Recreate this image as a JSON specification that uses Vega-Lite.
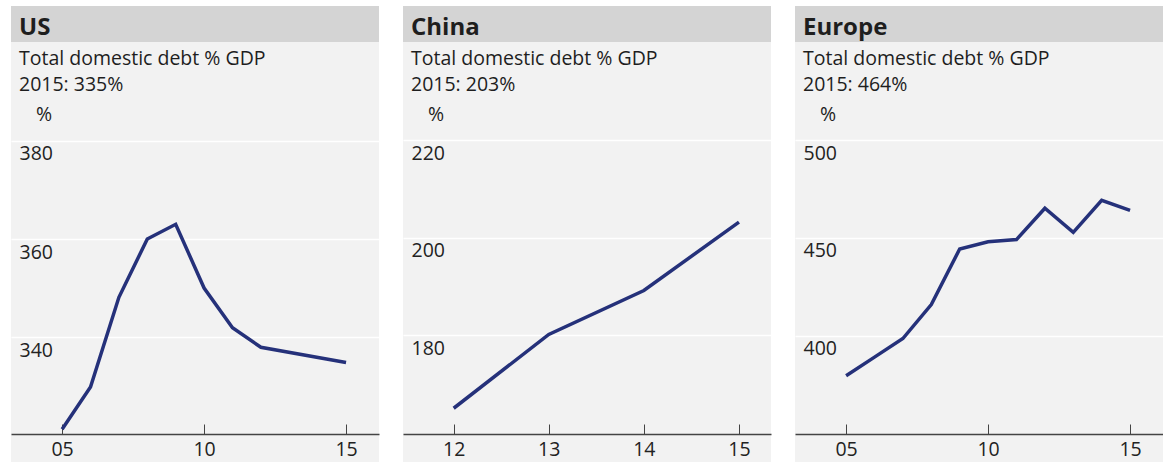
{
  "$schema": "https://vega.github.io/schema/vega-lite/v6.json",
  "background": "white",
  "padding": {"left": 11, "top": 6, "right": 0, "bottom": 0},
  "config": {
    "view": {"stroke": null},
    "font": "Open Sans",
    "concat": {"spacing": 24},
    "text": {"font": "Open Sans", "color": "#1e1e1e"}
  },
  "hconcat": [
    {
      "spacing": 0,
      "bounds": "flush",
      "vconcat": [
        {
          "width": 368, "height": 36,
          "view": {"fill": "#d4d4d4", "stroke": null},
          "data": {"values": [{"name": "US"}]},
          "mark": {"type": "text", "align": "left", "baseline": "alphabetic", "fontSize": 24, "fontWeight": "bold"},
          "encoding": {"text": {"field": "name"}, "x": {"value": 8}, "y": {"value": 29}}
        },
        {
          "width": 368, "height": 98,
          "view": {"fill": "#f2f2f2", "stroke": null},
          "data": {"values": [{"l1": "Total domestic debt % GDP", "l2": "2015: 335%", "u": "%"}]},
          "layer": [
            {"mark": {"type": "text", "align": "left", "baseline": "alphabetic", "fontSize": 19.5}, "encoding": {"text": {"field": "l1"}, "x": {"value": 8}, "y": {"value": 23}}},
            {"mark": {"type": "text", "align": "left", "baseline": "alphabetic", "fontSize": 19.5}, "encoding": {"text": {"field": "l2"}, "x": {"value": 8}, "y": {"value": 48.7}}},
            {"mark": {"type": "text", "align": "left", "baseline": "alphabetic", "fontSize": 19.5}, "encoding": {"text": {"field": "u"}, "x": {"value": 25}, "y": {"value": 78.7}}}
          ]
        },
        {
          "width": 368, "height": 322,
          "view": {"fill": "#f2f2f2", "stroke": null},
          "data": {"values": [
            {"year": 2005, "value": 321.2}, {"year": 2006, "value": 329.8}, {"year": 2007, "value": 348.1},
            {"year": 2008, "value": 360.0}, {"year": 2009, "value": 363.0}, {"year": 2010, "value": 350.0},
            {"year": 2011, "value": 341.9}, {"year": 2012, "value": 337.9}, {"year": 2015, "value": 334.8}
          ]},
          "mark": {"type": "line", "color": "#25317a", "strokeWidth": 3.5, "strokeJoin": "miter"},
          "encoding": {
            "x": {"field": "year", "type": "quantitative", "scale": {"domain": [2003.2, 2016.16], "nice": false},
                  "axis": {"values": [2005, 2010, 2015], "labelExpr": "substring(toString(datum.value), 2)", "title": null, "grid": false, "offset": -28,
                           "domainColor": "#444444", "domainWidth": 1.5, "tickColor": "#444444", "tickWidth": 1, "tickSize": -10, "labelPadding": 16,
                           "labelFontSize": 19.5, "labelColor": "#222222", "labelFont": "Open Sans", "labelFlush": false}},
            "y": {"field": "value", "type": "quantitative", "scale": {"domain": [314.5, 380.2], "nice": false, "zero": false},
                  "axis": {"values": [340, 360, 380], "title": null, "grid": true, "gridColor": "white", "gridWidth": 1.5, "domain": false, "ticks": false, "tickSize": 0,
                           "labelAlign": "left", "labelPadding": -8, "labelBaseline": "alphabetic", "labelOffset": 19, "labelFontSize": 19.5, "labelColor": "#222222",
                           "labelFont": "Open Sans", "labelFlush": false, "labelOverlap": false, "labelBound": false}}
          }
        }
      ]
    },
    {
      "spacing": 0,
      "bounds": "flush",
      "vconcat": [
        {
          "width": 368, "height": 36,
          "view": {"fill": "#d4d4d4", "stroke": null},
          "data": {"values": [{"name": "China"}]},
          "mark": {"type": "text", "align": "left", "baseline": "alphabetic", "fontSize": 24, "fontWeight": "bold"},
          "encoding": {"text": {"field": "name"}, "x": {"value": 8}, "y": {"value": 29}}
        },
        {
          "width": 368, "height": 98,
          "view": {"fill": "#f2f2f2", "stroke": null},
          "data": {"values": [{"l1": "Total domestic debt % GDP", "l2": "2015: 203%", "u": "%"}]},
          "layer": [
            {"mark": {"type": "text", "align": "left", "baseline": "alphabetic", "fontSize": 19.5}, "encoding": {"text": {"field": "l1"}, "x": {"value": 8}, "y": {"value": 23}}},
            {"mark": {"type": "text", "align": "left", "baseline": "alphabetic", "fontSize": 19.5}, "encoding": {"text": {"field": "l2"}, "x": {"value": 8}, "y": {"value": 48.7}}},
            {"mark": {"type": "text", "align": "left", "baseline": "alphabetic", "fontSize": 19.5}, "encoding": {"text": {"field": "u"}, "x": {"value": 25}, "y": {"value": 78.7}}}
          ]
        },
        {
          "width": 368, "height": 322,
          "view": {"fill": "#f2f2f2", "stroke": null},
          "data": {"values": [
            {"year": 2012, "value": 165.1}, {"year": 2013, "value": 180.2}, {"year": 2014, "value": 189.2}, {"year": 2015, "value": 203.2}
          ]},
          "mark": {"type": "line", "color": "#25317a", "strokeWidth": 3.5, "strokeJoin": "miter"},
          "encoding": {
            "x": {"field": "year", "type": "quantitative", "scale": {"domain": [2011.467, 2015.337], "nice": false},
                  "axis": {"values": [2012, 2013, 2014, 2015], "labelExpr": "substring(toString(datum.value), 2)", "title": null, "grid": false, "offset": -28,
                           "domainColor": "#444444", "domainWidth": 1.5, "tickColor": "#444444", "tickWidth": 1, "tickSize": -10, "labelPadding": 16,
                           "labelFontSize": 19.5, "labelColor": "#222222", "labelFont": "Open Sans", "labelFlush": false}},
            "y": {"field": "value", "type": "quantitative", "scale": {"domain": [154.1, 220], "nice": false, "zero": false},
                  "axis": {"values": [180, 200, 220], "title": null, "grid": true, "gridColor": "white", "gridWidth": 1.5, "domain": false, "ticks": false, "tickSize": 0,
                           "labelAlign": "left", "labelPadding": -8, "labelBaseline": "alphabetic", "labelOffset": 19, "labelFontSize": 19.5, "labelColor": "#222222",
                           "labelFont": "Open Sans", "labelFlush": false, "labelOverlap": false, "labelBound": false}}
          }
        }
      ]
    },
    {
      "spacing": 0,
      "bounds": "flush",
      "vconcat": [
        {
          "width": 368, "height": 36,
          "view": {"fill": "#d4d4d4", "stroke": null},
          "data": {"values": [{"name": "Europe"}]},
          "mark": {"type": "text", "align": "left", "baseline": "alphabetic", "fontSize": 24, "fontWeight": "bold"},
          "encoding": {"text": {"field": "name"}, "x": {"value": 8}, "y": {"value": 29}}
        },
        {
          "width": 368, "height": 98,
          "view": {"fill": "#f2f2f2", "stroke": null},
          "data": {"values": [{"l1": "Total domestic debt % GDP", "l2": "2015: 464%", "u": "%"}]},
          "layer": [
            {"mark": {"type": "text", "align": "left", "baseline": "alphabetic", "fontSize": 19.5}, "encoding": {"text": {"field": "l1"}, "x": {"value": 8}, "y": {"value": 23}}},
            {"mark": {"type": "text", "align": "left", "baseline": "alphabetic", "fontSize": 19.5}, "encoding": {"text": {"field": "l2"}, "x": {"value": 8}, "y": {"value": 48.7}}},
            {"mark": {"type": "text", "align": "left", "baseline": "alphabetic", "fontSize": 19.5}, "encoding": {"text": {"field": "u"}, "x": {"value": 25}, "y": {"value": 78.7}}}
          ]
        },
        {
          "width": 368, "height": 322,
          "view": {"fill": "#f2f2f2", "stroke": null},
          "data": {"values": [
            {"year": 2005, "value": 379.7}, {"year": 2006, "value": 389.2}, {"year": 2007, "value": 398.7},
            {"year": 2008, "value": 416.0}, {"year": 2009, "value": 444.4}, {"year": 2010, "value": 448.1},
            {"year": 2011, "value": 449.2}, {"year": 2012, "value": 465.2}, {"year": 2013, "value": 452.9},
            {"year": 2014, "value": 469.2}, {"year": 2015, "value": 464.1}
          ]},
          "mark": {"type": "line", "color": "#25317a", "strokeWidth": 3.5, "strokeJoin": "miter"},
          "encoding": {
            "x": {"field": "year", "type": "quantitative", "scale": {"domain": [2003.2, 2016.16], "nice": false},
                  "axis": {"values": [2005, 2010, 2015], "labelExpr": "substring(toString(datum.value), 2)", "title": null, "grid": false, "offset": -28,
                           "domainColor": "#444444", "domainWidth": 1.5, "tickColor": "#444444", "tickWidth": 1, "tickSize": -10, "labelPadding": 16,
                           "labelFontSize": 19.5, "labelColor": "#222222", "labelFont": "Open Sans", "labelFlush": false}},
            "y": {"field": "value", "type": "quantitative", "scale": {"domain": [335.7, 500], "nice": false, "zero": false},
                  "axis": {"values": [400, 450, 500], "title": null, "grid": true, "gridColor": "white", "gridWidth": 1.5, "domain": false, "ticks": false, "tickSize": 0,
                           "labelAlign": "left", "labelPadding": -8, "labelBaseline": "alphabetic", "labelOffset": 19, "labelFontSize": 19.5, "labelColor": "#222222",
                           "labelFont": "Open Sans", "labelFlush": false, "labelOverlap": false, "labelBound": false}}
          }
        }
      ]
    }
  ]
}
